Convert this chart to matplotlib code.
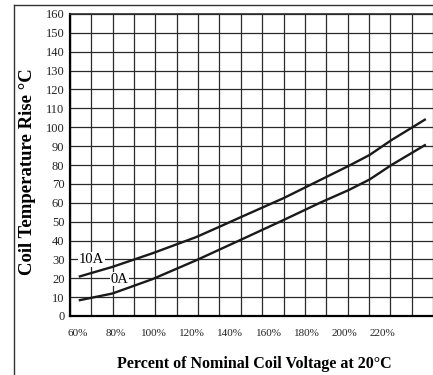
import numpy as np
import matplotlib
matplotlib.use('Agg')
import matplotlib.pyplot as plt
from matplotlib.lines import Line2D

# Data
voltage_10a = [61, 78, 99, 122, 134.5, 145.5, 168, 187, 202, 213, 224.5, 242]
temp_10a = [21.0, 26.0, 33.2, 41.8, 47.4, 52.4, 62.5, 72.0, 79.5, 85.3, 93.2, 104.0]

voltage_0a = [61, 78, 99, 122, 134.5, 145.5, 168, 187, 202, 213, 224.5, 242]
temp_0a = [8.4, 11.9, 19.5, 29.5, 35.3, 40.4, 50.9, 60.0, 66.7, 72.3, 80.0, 90.5]

x_ticks = [60, 80, 100, 120, 140, 160, 180, 200, 220]
x_tick_labels = ['60%', '80%', '100%', '120%', '140%', '160%', '180%', '200%', '220%']
y_ticks = list(range(0, 161, 10))

# Figure setup
plt.rcParams['font.family'] = ['Liberation Serif', 'DejaVu Serif']
W, H = 433, 375
fig = plt.figure(figsize=(W / 100, H / 100), dpi=100)

left, right, top, bottom = 70, 433, 14, 316
ax = fig.add_axes([left / W, 1 - bottom / H, (right - left) / W, (bottom - top) / H])

xmin, xmax = 55.8, 246.3
ax.set_xlim(xmin, xmax)
ax.set_ylim(0, 160)

# Grid: 17 columns, rows every 10
ax.set_xticks(np.linspace(xmin, xmax, 18), minor=True)
ax.set_yticks(y_ticks)
ax.set_xticks(x_ticks)
ax.set_xticklabels(x_tick_labels)
ax.grid(True, which='minor', axis='x', color='#2a2a2a', lw=0.9)
ax.grid(True, which='major', axis='y', color='#2a2a2a', lw=0.9)
ax.tick_params(axis='x', which='both', length=0, pad=9, labelsize=8, labelcolor='#222222')
ax.tick_params(axis='y', which='both', length=0, pad=4, labelsize=9, labelcolor='#222222')

for side in ['left', 'bottom']:
    ax.spines[side].set_linewidth(1.6)
    ax.spines[side].set_color('black')
ax.spines['top'].set_linewidth(1.2)
ax.spines['top'].set_color('#2a2a2a')
ax.spines['right'].set_visible(False)

# Curves
ax.plot(voltage_10a, temp_10a, color='#1a1a1a', lw=1.7, zorder=3)
ax.plot(voltage_0a, temp_0a, color='#1a1a1a', lw=1.7, zorder=3)

box = dict(facecolor='white', edgecolor='none', pad=0.6)
ax.text(67.1, 30, '10A', ha='center', va='center', fontsize=10.5, bbox=box, zorder=4)
ax.text(81.8, 19.6, '0A', ha='center', va='center', fontsize=10.5, bbox=box, zorder=4)

# Axis titles
fig.text(28 / W, 1 - 172 / H, 'Coil Temperature Rise \u00b0C', rotation=90,
         ha='center', va='center', fontsize=13.5, fontweight='bold')
fig.text(254 / W, 1 - 364 / H, 'Percent of Nominal Coil Voltage at 20\u00b0C',
         ha='center', va='center', fontsize=11.5, fontweight='bold')

# Outer frame
fig.add_artist(Line2D([14 / W, 14 / W], [0, 1 - 5 / H], color='#333333', lw=1.0,
                      transform=fig.transFigure))
fig.add_artist(Line2D([14 / W, 1], [1 - 5 / H, 1 - 5 / H], color='#333333', lw=1.0,
                      transform=fig.transFigure))

fig.savefig('out.png', dpi=100)
